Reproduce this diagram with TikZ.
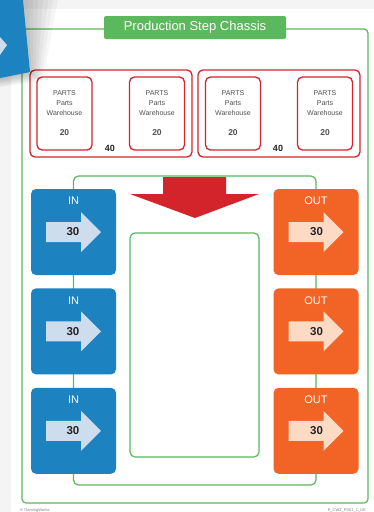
\documentclass[tikz,border=0pt]{standalone}
\usepackage{fontspec}
\setmainfont{Liberation Sans}
\usetikzlibrary{positioning}
\usetikzlibrary{calc}
\usetikzlibrary{backgrounds}

\definecolor{chassisgreen}{RGB}{92,184,92}
\definecolor{partsred}{RGB}{211,36,44}
\definecolor{inblue}{RGB}{29,130,192}
\definecolor{inlight}{RGB}{206,221,238}
\definecolor{outorange}{RGB}{242,99,38}
\definecolor{outlight}{RGB}{253,218,196}
\definecolor{textgray}{RGB}{80,80,80}
\definecolor{textdark}{RGB}{35,35,35}
\definecolor{pagegray}{RGB}{244,244,244}

\begin{document}
\begin{tikzpicture}[x=1pt,y=-1pt,
  greenline/.style={draw=chassisgreen, line width=1.2pt},
  card/.style={rounded corners=5pt, minimum width=85pt, minimum height=86pt, inner sep=0pt},
  incard/.style={card, fill=inblue},
  outcard/.style={card, fill=outorange},
  cardtitle/.style={text=white, font=\fontsize{11}{12}\selectfont, inner sep=0pt},
  amount/.style={text=textdark, font=\fontsize{11.5}{12}\selectfont\bfseries, inner sep=0pt},
  partsgroup/.style={draw=partsred, line width=1.3pt, rounded corners=5pt, minimum width=162pt, minimum height=87pt},
  warehouse/.style={draw=partsred, line width=1.3pt, rounded corners=5pt, minimum width=55pt, minimum height=73pt,
    align=center, text=textgray, font=\fontsize{7}{10}\selectfont, inner sep=0pt},
  pics/flowarrow/.style={code={
    \fill[#1] (-27.5,-10) -- (7.5,-10) -- (7.5,-20) -- (27.5,0) -- (7.5,20) -- (7.5,10) -- (-27.5,10) -- cycle;}}
]
\useasboundingbox (0,0) rectangle (374,512);

% in and out cards
\node[incard] (in1) at (73.5,232) {};
\node[incard, below=13pt of in1] (in2) {};
\node[incard, below=13pt of in2] (in3) {};
\node[outcard] (out1) at (316,232) {};
\node[outcard, below=13pt of out1] (out2) {};
\node[outcard, below=13pt of out2] (out3) {};
\foreach \c in {in1,in2,in3} {
\path (\c.center) pic {flowarrow=inlight};
\node[amount] (\c-n) at ($(\c.center)+(-0.5,0)$) {30};
\node[cardtitle] (\c-t) at ($(\c.center)+(0,-31)$) {IN};
}
\foreach \c in {out1,out2,out3} {
\path (\c.center) pic {flowarrow=outlight};
\node[amount] (\c-n) at ($(\c.center)+(0.5,0)$) {30};
\node[cardtitle] (\c-t) at ($(\c.center)+(0,-31)$) {OUT};
}

% chassis frame and loop
\coordinate (looptop) at (0,176);
\coordinate (loopbot) at (0,485);
\begin{scope}[on background layer]
\fill[pagegray] (0,0) rectangle (374,512);
\fill[white] (11,9) rectangle (374,512);
\node[greenline, rounded corners=4pt, minimum width=346pt, minimum height=474pt] (frame) at (195,266) {};
\draw[greenline, rounded corners=5pt] (in2.center) -- (in1.center |- looptop) -- (out1.center |- looptop)
  -- (out3.center |- loopbot) -- (in3.center |- loopbot) -- cycle;
\end{scope}
\node[fill=chassisgreen, rounded corners=2pt, minimum width=182pt, minimum height=23pt, text=white,
  font=\fontsize{13}{14}\selectfont] (title) at (195,27.5) {Production Step Chassis};

% parts warehouses
\node[partsgroup] (grp1) at (111,113.5) {};
\node[partsgroup] (grp2) at (279,113.5) {};
\foreach \x/\n in {64.5/wh1,157/wh2,233/wh3,325/wh4} {
\node[warehouse] (\n) at (\x,113.5) {PARTS\\Parts\\Warehouse\\[10pt]{\fontsize{8.5}{10}\selectfont\bfseries 20}};
}
\node[font=\fontsize{9}{10}\selectfont\bfseries, text=textdark, inner sep=0pt] (sum1) at (110,148) {40};
\node[font=\fontsize{9}{10}\selectfont\bfseries, text=textdark, inner sep=0pt] (sum2) at (278,148) {40};

% stage with feed arrow
\node[greenline, rounded corners=5pt, minimum width=129pt, minimum height=224pt] (stage) at (194.5,345) {};
\fill[partsred] (163,177) -- (226,177) -- (226,194) -- (259,194) -- (195,218) -- (130,194) -- (163,194) -- cycle;

% card lying over the corner
\foreach \s in {1,...,7} {
\fill[black, opacity=0.035] (0,0) -- (23+5*\s,0) -- (30+1.8*\s,72+1.3*\s) -- (0,78+1.3*\s) -- cycle;
}
\fill[inblue] (0,0) -- (23,0) -- (30,72) -- (0,78) -- cycle;
\fill[inlight] (0,37) -- (7,45) -- (0,55) -- cycle;

% footer
\node[font=\fontsize{4}{5}\selectfont, text=gray, anchor=west, inner sep=0pt] (copy) at (20,510) {\textcopyright{} GamingWorks};
\node[font=\fontsize{4}{5}\selectfont, text=gray, anchor=east, inner sep=0pt] (code) at (366,510) {P\_CW2\_PS01\_1\_UK};
\end{tikzpicture}
\end{document}
